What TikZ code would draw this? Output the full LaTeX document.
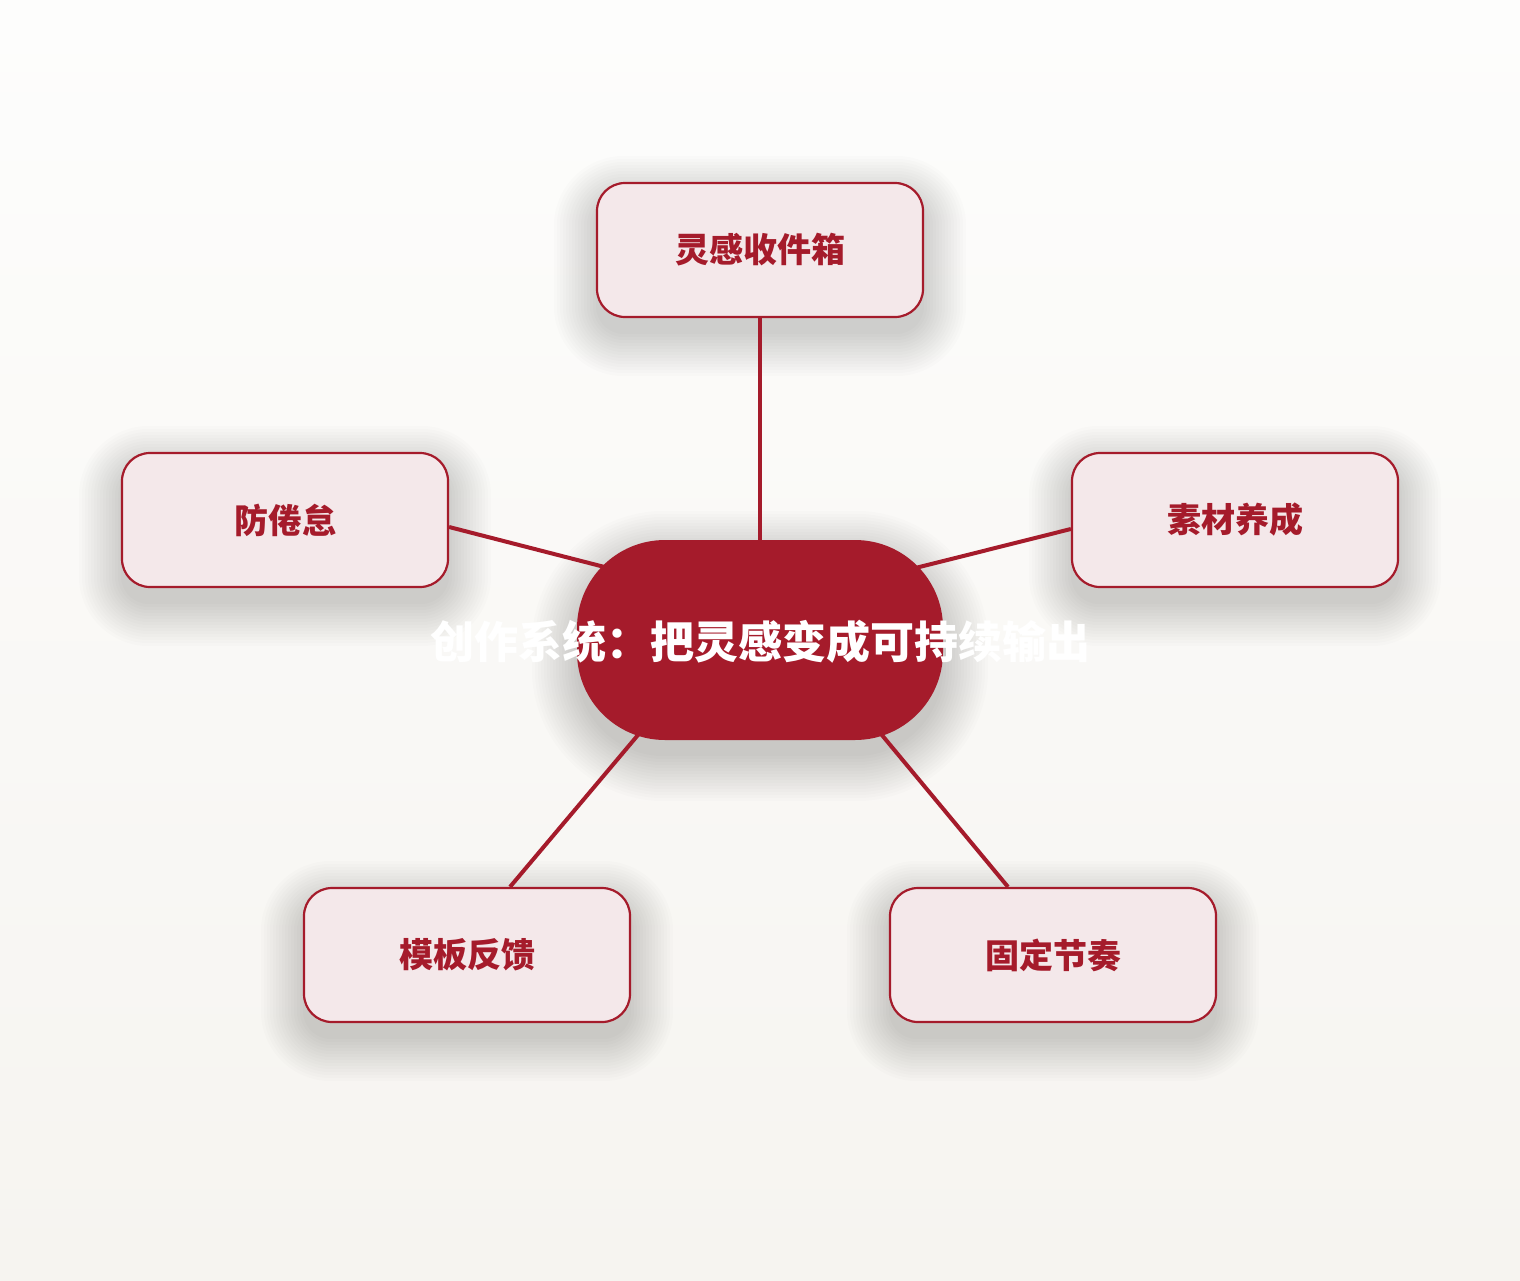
\documentclass[tikz,border=0pt]{standalone}
\usepackage{fontspec}
\newfontfamily\cjk{Noto Sans CJK SC}
\usetikzlibrary{backgrounds}
\definecolor{crimson}{HTML}{A51B2B}
\definecolor{blush}{HTML}{F4E8EA}
\definecolor{paper}{HTML}{FDFDFC}
\definecolor{sand}{HTML}{F6F4F0}
\tikzset{
  leaf/.style={draw=crimson, line width=2.2pt, fill=blush, rounded corners=28pt,
    minimum width=326pt, minimum height=134pt, text=crimson,
    font=\cjk\bfseries\fontsize{34}{40}\selectfont},
  hubbox/.style={fill=crimson, rounded corners=88pt, minimum width=366pt, minimum height=200pt},
  spoke/.style={crimson, line width=4pt},
  haze/.style={fill=black, opacity=0.01}
}
\begin{document}
\begin{tikzpicture}[x=1pt,y=-1pt]
    \useasboundingbox (0,0) rectangle (1520,1280);
    \node[hubbox, label={[text=white, font=\cjk\bfseries\fontsize{44}{50}\selectfont, yshift=-2pt]center:创作系统：把灵感变成可持续输出}] (hub) at (760,640) {};
    \node[leaf] (inbox) at (760,250) {灵感收件箱};
    \node[leaf] (fade) at (285,520) {防倦怠};
    \node[leaf] (material) at (1235,520) {素材养成};
    \node[leaf] (template) at (467,955) {模板反馈};
    \node[leaf] (rhythm) at (1053,955) {固定节奏};
    \begin{scope}[on background layer]
        \fill[top color=paper, bottom color=sand] (0,0) rectangle (1520,1280);
        % soft shadows
        \foreach \n in {inbox,fade,material,template,rhythm}
            \foreach \e in {0,3,...,42}
                \fill[haze, rounded corners=28pt+\e pt] ([shift={(-\e,-\e+16)}]\n.north west) rectangle ([shift={(\e,\e+16)}]\n.south east);
        \foreach \e in {0,3,...,45}
            \fill[haze, rounded corners=88pt+\e pt] ([shift={(-\e,-\e+16)}]hub.north west) rectangle ([shift={(\e,\e+16)}]hub.south east);
        \draw[spoke] (hub.center) -- (inbox.south);
        \draw[spoke] ([yshift=33pt]hub.center) -- ([yshift=-7pt]fade.east);
        \draw[spoke] ([yshift=33pt]hub.center) -- ([yshift=-9pt]material.west);
        \draw[spoke] ([xshift=-42pt]hub.center) -- ([xshift=43pt]template.north);
        \draw[spoke] ([xshift=43pt]hub.center) -- ([xshift=-45pt]rhythm.north);
    \end{scope}
\end{tikzpicture}
\end{document}
